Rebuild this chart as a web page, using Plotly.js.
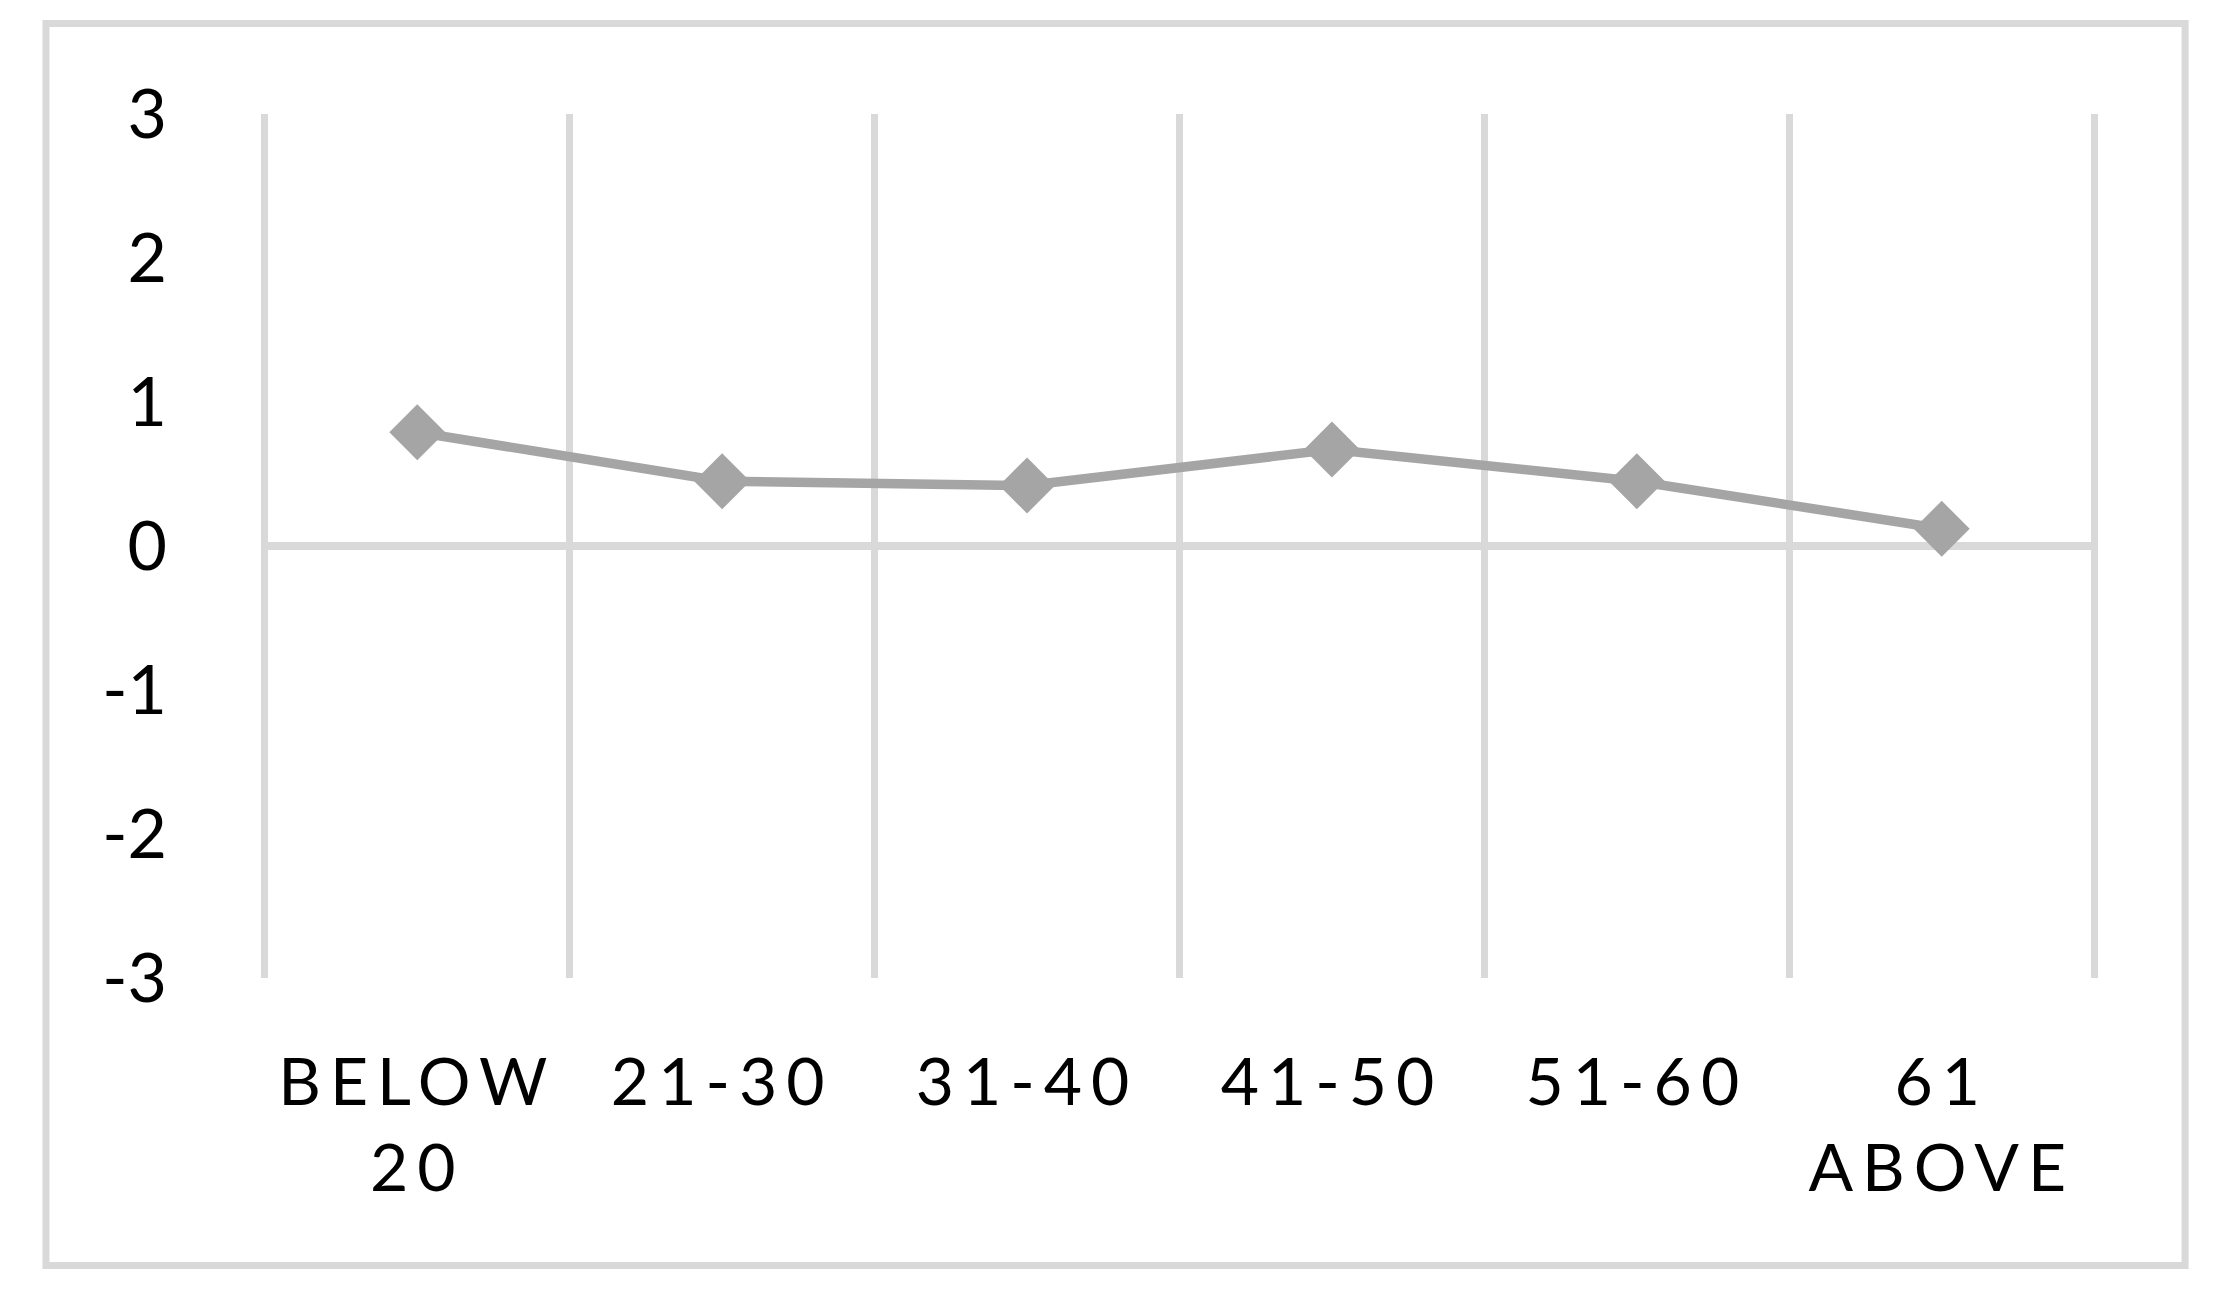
<!DOCTYPE html>
<html>
<head>
<meta charset="utf-8">
<script src="https://cdn.plot.ly/plotly-3.0.1.min.js"></script>
<style>
  html, body { margin: 0; padding: 0; background: #ffffff; }
  #chart { width: 2227px; height: 1295px; }
  .xtick text { letter-spacing: 9px; }
</style>
</head>
<body>
<div id="chart"></div>
<script>
// Data
const categories = ["BELOW 20", "21-30", "31-40", "41-50", "51-60", "61 ABOVE"];
const categoryLabels = ["BELOW<br>20", "21-30", "31-40", "41-50", "51-60", "61<br>ABOVE"];
const values = [0.79, 0.45, 0.42, 0.67, 0.45, 0.12];
const yTickValues = [-3, -2, -1, 0, 1, 2, 3];
const yTickLabels = ["-3", "-2", "-1", "0", "1", "2", "3"];

const grey = "#a5a5a5";
const gridGrey = "#d9d9d9";
const fontFamily = "Lato, 'Open Sans', sans-serif";

const trace = {
  type: "scatter",
  mode: "lines+markers",
  x: categories,
  y: values,
  line: { color: grey, width: 9.5 },
  marker: { symbol: "diamond", size: 43, color: grey },
  cliponaxis: false,
  hoverinfo: "x+y"
};

const layout = {
  width: 2227,
  height: 1295,
  paper_bgcolor: "#ffffff",
  plot_bgcolor: "#ffffff",
  showlegend: false,
  margin: { l: 263, r: 131, t: 114, b: 317, pad: 0 },
  font: { family: fontFamily, color: "#000000", size: 66 },
  xaxis: {
    type: "category",
    // slightly padded so the boundary gridlines at the plot edges are kept
    range: [-0.506, 5.506],
    tickmode: "array",
    tickvals: categories,
    ticktext: categoryLabels,
    tickson: "boundaries",
    ticks: "",
    showgrid: true,
    gridcolor: gridGrey,
    gridwidth: 7,
    showline: false,
    zeroline: false,
    tickfont: { family: fontFamily, size: 66, color: "#000000" },
    ticklabelstandoff: 60,
    fixedrange: true
  },
  yaxis: {
    range: [-3, 3],
    tickmode: "array",
    tickvals: yTickValues,
    ticktext: yTickLabels,
    ticks: "",
    showgrid: false,
    zeroline: true,
    zerolinecolor: gridGrey,
    zerolinewidth: 7.5,
    showline: false,
    tickfont: { family: fontFamily, size: 68, color: "#000000" },
    ticklabelstandoff: 95,
    fixedrange: true
  },
  shapes: [
    {
      type: "rect",
      xref: "paper", yref: "paper",
      x0: -0.1184, x1: 1.0486,
      y0: -0.3328, y1: 1.1047,
      line: { color: gridGrey, width: 7 },
      fillcolor: "rgba(0,0,0,0)",
      layer: "below"
    }
  ]
};

Plotly.newPlot("chart", [trace], layout, { displayModeBar: false, staticPlot: true });
</script>
</body>
</html>
